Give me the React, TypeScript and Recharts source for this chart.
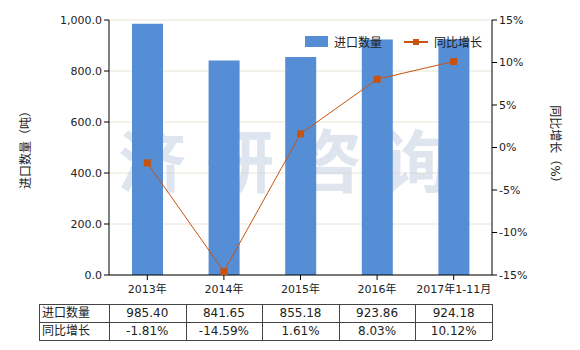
import React from 'react';
import { ComposedChart, Bar, Line, XAxis, YAxis, CartesianGrid, Customized } from 'recharts';

const years = ['2013年', '2014年', '2015年', '2016年', '2017年1-11月'];
const imports = [985.40, 841.65, 855.18, 923.86, 924.18];
const growth = [-1.81, -14.59, 1.61, 8.03, 10.12];
const leftTicks = [0, 200, 400, 600, 800, 1000];
const rightTicks = [-15, -10, -5, 0, 5, 10, 15];

const BLUE = '#558ed5';
const ORANGE = '#c9520e';
const FONT = 'Tahoma, "DejaVu Sans", "Noto Sans CJK SC", sans-serif';

const data = years.map((y, i) => ({ year: y, qty: imports[i], pct: growth[i] }));

const fmtQty = (v: number) =>
  v.toLocaleString('en-US', { minimumFractionDigits: 1, maximumFractionDigits: 1 });

function Watermark() {
  return (
    <text x={294} y={187} textAnchor="middle" fontSize={68} fontWeight="bold"
      fontFamily='"Noto Sans CJK SC", sans-serif' fill="#c4d0e0" fillOpacity={0.55}
      letterSpacing={20}>
      济研咨询
    </text>
  );
}

function AxisTitles() {
  return (
    <g fontFamily={FONT} fontSize={12} fill="#222">
      <text transform="translate(30,147) rotate(-90)" textAnchor="middle">进口数量（吨）</text>
      <text transform="translate(551,147) rotate(90)" textAnchor="middle">同比增长（%）</text>
    </g>
  );
}

function LegendBox() {
  return (
    <div style={{ position: 'absolute', left: 305, top: 33, fontFamily: FONT, fontSize: 12, display: 'flex', alignItems: 'center', color: '#222' }}>
      <span style={{ width: 23, height: 11, background: BLUE, display: 'inline-block', marginRight: 6 }} />
      <span style={{ marginRight: 22 }}>进口数量</span>
      <svg width={24} height={10} style={{ marginRight: 6 }}>
        <line x1={0} y1={5} x2={24} y2={5} stroke={ORANGE} strokeWidth={2} />
        <rect x={9} y={2} width={6} height={6} fill={ORANGE} />
      </svg>
      <span>同比增长</span>
    </div>
  );
}

const colX = [39, 109, 185.6, 262.2, 338.8, 415.4, 492];

function Table() {
  const rows = [
    { label: '进口数量', vals: imports.map(v => v.toFixed(2)) },
    { label: '同比增长', vals: growth.map(v => v.toFixed(2) + '%') },
  ];
  return (
    <svg width={580} height={60} style={{ position: 'absolute', left: 0, top: 296 }}>
      {rows.map((r, ri) => (
        <g key={ri}>
          <text x={42} y={8 + ri * 18 + 13} fontSize={12} fontFamily={FONT} fill="#222">{r.label}</text>
          {r.vals.map((v, ci) => (
            <text key={ci} x={(colX[ci + 1] + colX[ci + 2]) / 2} y={8 + ri * 18 + 13} textAnchor="middle"
              fontSize={12} fontFamily={FONT} fill="#222">{v}</text>
          ))}
        </g>
      ))}
      {[8, 26, 44].map(y => (
        <line key={y} x1={39} x2={492} y1={y + 0.5} y2={y + 0.5} stroke="#444" />
      ))}
      {colX.map(x => (
        <line key={x} x1={Math.round(x) + 0.5} x2={Math.round(x) + 0.5} y1={8} y2={44} stroke="#444" />
      ))}
    </svg>
  );
}

export default function App() {
  return (
    <div style={{ position: 'absolute', left: 0, top: 0, width: 580, height: 350, background: '#fff' }}>
      <ComposedChart width={580} height={350} data={data}
        margin={{ top: 20, right: 40, bottom: 50, left: 39 }}
        style={{ fontFamily: FONT }}>
        <CartesianGrid vertical={false} stroke="#e6e6d6" yAxisId="left" />
        <XAxis dataKey="year" height={25} tick={{ fontSize: 11, fill: '#222', dy: 3 }}
          axisLine={{ stroke: '#000' }} tickLine={{ stroke: '#000' }} tickSize={5} />
        <YAxis yAxisId="left" width={70} domain={[0, 1000]} ticks={leftTicks}
          tickFormatter={fmtQty} tick={{ fontSize: 11, fill: '#222' }}
          axisLine={{ stroke: '#000' }} tickLine={{ stroke: '#000' }} tickSize={5} />
        <YAxis yAxisId="right" orientation="right" width={48} domain={[-15, 15]} ticks={rightTicks}
          tickFormatter={(v: number) => v + '%'} tick={{ fontSize: 11, fill: '#222' }}
          axisLine={{ stroke: '#000' }} tickLine={{ stroke: '#000' }} tickSize={5} />
        <Bar yAxisId="left" dataKey="qty" fill={BLUE} barSize={31} isAnimationActive={false} />
        <Customized component={Watermark} />
        <Customized component={AxisTitles} />
        <Line yAxisId="right" dataKey="pct" stroke={ORANGE} strokeWidth={1}
          dot={(p: any) => <rect key={p.index} x={p.cx - 3.5} y={p.cy - 3.5} width={7} height={7} fill={ORANGE} />}
          isAnimationActive={false} />
      </ComposedChart>
      <LegendBox />
      <Table />
    </div>
  );
}
